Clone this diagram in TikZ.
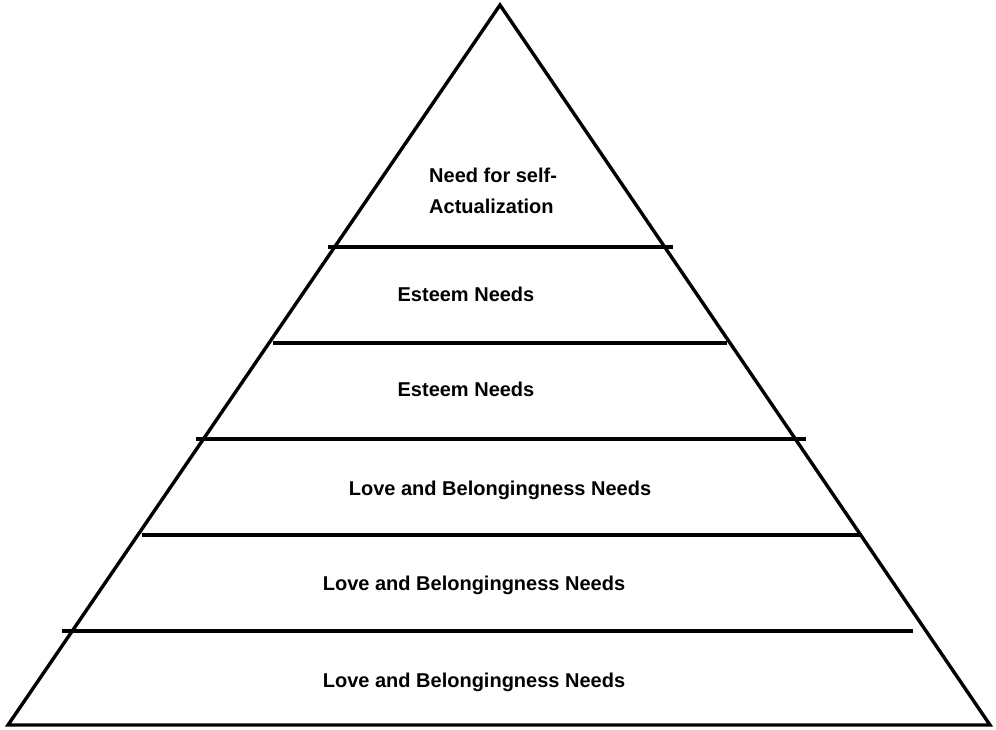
\documentclass[tikz,border=0pt]{standalone}
\usepackage{fontspec}
\setmainfont{Liberation Sans}
\begin{document}
\begin{tikzpicture}[x=1pt,y=-1pt,
  edge/.style={line width=3.4pt,black},
  lbl/.style={inner sep=0pt,font=\fontsize{20}{24}\selectfont\bfseries}]
\useasboundingbox (0,0) rectangle (996,729);
\coordinate (apex) at (500,5);
\coordinate (bl) at (8,725);
\coordinate (br) at (990,725);
\draw[edge,line join=miter] (bl) -- (apex) -- (br) -- cycle;
\coordinate (a1) at (328,247); \coordinate (b1) at (673,247);
\coordinate (a2) at (273,343); \coordinate (b2) at (727,343);
\coordinate (a3) at (196,439); \coordinate (b3) at (806,439);
\coordinate (a4) at (142,535); \coordinate (b4) at (862,535);
\coordinate (a5) at (62,631);  \coordinate (b5) at (913,631);
\draw[edge] (a1) -- (b1);
\draw[edge] (a2) -- (b2);
\draw[edge] (a3) -- (b3);
\draw[edge] (a4) -- (b4);
\draw[edge] (a5) -- (b5);
\node[lbl,anchor=base west] (t1a) at (429,182) {Need for self-};
\node[lbl,anchor=base west] (t1b) at (429,213) {Actualization};
\node[lbl,anchor=base] (t2) at (466,301) {Esteem Needs};
\node[lbl,anchor=base] (t3) at (466,396) {Esteem Needs};
\node[lbl,anchor=base] (t4) at (500,495) {Love and Belongingness Needs};
\node[lbl,anchor=base] (t5) at (474,590) {Love and Belongingness Needs};
\node[lbl,anchor=base] (t6) at (474,687) {Love and Belongingness Needs};
\end{tikzpicture}
\end{document}
